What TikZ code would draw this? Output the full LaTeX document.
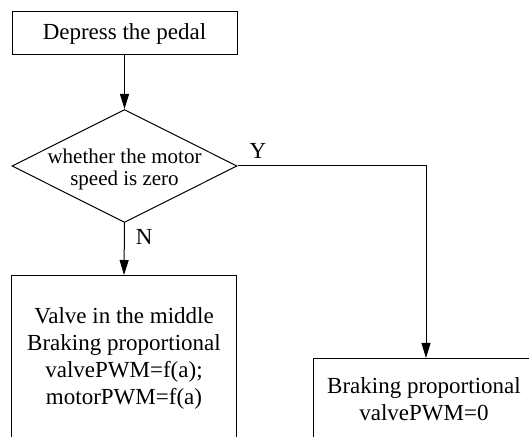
\documentclass[tikz,border=0pt]{standalone}
\usepackage{fontspec}
\setmainfont{Liberation Serif}
\usetikzlibrary{positioning,
        shapes,
        arrows.meta}

\begin{document}
\begin{tikzpicture}[x=0.5pt,y=-0.5pt,
        box/.style={rectangle,draw,line width=0.5pt,minimum width=112.5pt,inner sep=0pt},
        decide/.style={diamond,draw,line width=0.5pt,minimum width=112.5pt,minimum height=56.5pt,inner sep=0pt},
        txt/.style={align=center,inner sep=0pt,font=\fontsize{11.5}{13.5}\selectfont},
        lbl/.style={inner sep=0pt,font=\fontsize{11.5}{13.5}\selectfont},
        arr/.style={-{Triangle[length=7.5pt,width=4.5pt]},line width=0.5pt}]
            \useasboundingbox (0,0) rectangle (529,437);
            \clip (0,0) rectangle (529,437);
            \node [box,txt,minimum height=21.5pt] (pedal) at (124.5,33.5) {Depress the pedal};
            \node [decide] (speed) at (124.5,166) {};
            \node [txt,font=\fontsize{10.5}{11}\selectfont] (speedText) at (124.5,169) {whether the motor\\speed is zero};
            \node [box,anchor=north,minimum height=100pt] (valve) at (124,275) {};
            \node [txt,anchor=north] (valveText) at (124,307) {Valve in the middle\\Braking proportional\\valvePWM=f(a);\\motorPWM=f(a)};
            \node [box,anchor=north,minimum height=60pt] (brake) at (426,358) {};
            \node [txt,anchor=north] (brakeText) at (424,377) {Braking proportional\\valvePWM=0};

            \draw [arr] (pedal) -- (speed);
            \draw [arr] (speed.south) -- node [lbl,pos=0.27,anchor=west,xshift=5.5pt] {N} (valve.north);
            \draw [arr] (speed.east) -| node [lbl,pos=0.054,anchor=south,yshift=3.5pt] {Y} (brake.north);
        \end{tikzpicture}
\end{document}
